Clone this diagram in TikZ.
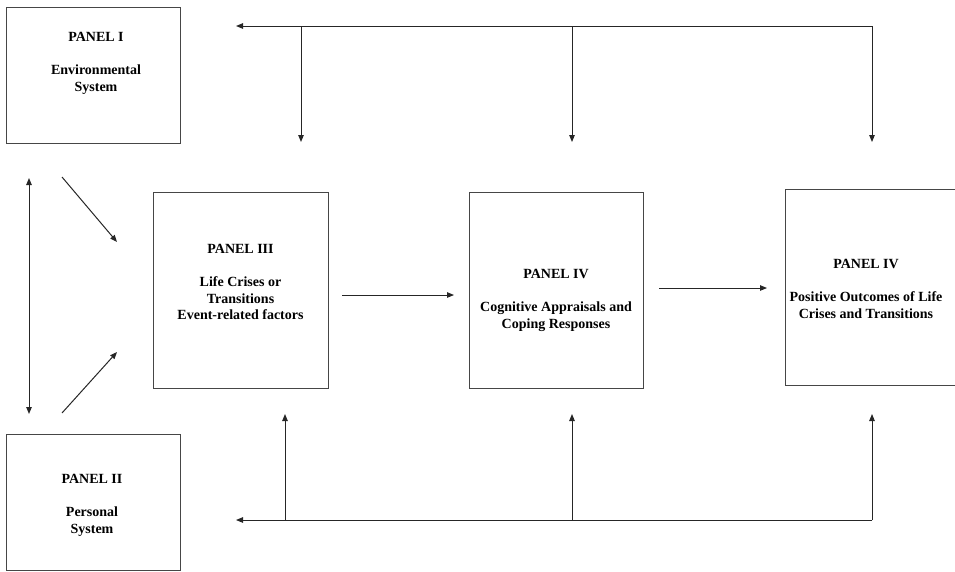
\documentclass[tikz,border=0pt]{standalone}
\usepackage{fontspec}
\setmainfont{Liberation Serif}
\usetikzlibrary{arrows.meta,positioning}
\definecolor{cEdge}{RGB}{70,70,70}
\tikzset{
	panelbox/.style={draw=cEdge, line width=0.95pt, fill=white, inner sep=0pt},
	paneltxt/.style={align=center, inner sep=0pt, anchor=north,
		font=\fontsize{14}{16.5}\selectfont\bfseries},
	parr/.style={-{Triangle[length=7pt,width=5.5pt]}, line width=1pt, draw=black!85},
}

\begin{document}
\begin{tikzpicture}[x=1pt,y=-1pt]
	\useasboundingbox (0,0) rectangle (955,571);
	% panels
	\node[panelbox, minimum width=174, minimum height=136] (envsys) at (93,75) {};
	\node[panelbox, minimum width=174, minimum height=136] (perssys) at (93,502) {};
	\node[panelbox, minimum width=175, minimum height=196] (crises) at (240.5,290) {};
	\node[panelbox, minimum width=174, minimum height=196] (coping) at (556,290) {};
	\node[panelbox, minimum width=176, minimum height=196] (outcome) at (873,287) {};
	% panel texts
	\node[paneltxt, yshift=-26pt, xshift=3pt] (envtxt) at (envsys.north)
		{PANEL I\\[16.5pt]Environmental\\System};
	\node[paneltxt, yshift=-41pt, xshift=-1pt] (perstxt) at (perssys.north)
		{PANEL II\\[16.5pt]Personal\\System};
	\node[paneltxt, yshift=-53pt] (crisestxt) at (crises.north)
		{PANEL III\\[16.5pt]Life Crises or\\Transitions\\Event-related factors};
	\node[paneltxt, yshift=-78pt] (copingtxt) at (coping.north)
		{PANEL IV\\[16.5pt]Cognitive Appraisals and\\Coping Responses};
	\node[paneltxt, yshift=-71pt, xshift=-7pt] (outcometxt) at (outcome.north)
		{PANEL IV\\[16.5pt]Positive Outcomes of Life\\Crises and Transitions};
	% free ends of the connectors
	\coordinate (vtop) at (29,178);
	\coordinate (vbot) at (29,414);
	\coordinate (dgA) at (62,177);
	\coordinate (dgAend) at (117,242);
	\coordinate (dgB) at (62,413);
	\coordinate (dgBend) at (117,352);
	\coordinate (midA) at (342,295);
	\coordinate (midAend) at (454,295);
	\coordinate (midB) at (659,288);
	\coordinate (midBend) at (767,288);
	\coordinate (topR) at (872,26);
	\coordinate (topL) at (236,26);
	\coordinate (botR) at (872,520);
	\coordinate (botL) at (236,520);
	% left side
	\draw[parr, {Triangle[length=7pt,width=5.5pt]}-{Triangle[length=7pt,width=5.5pt]}] (vtop) -- (vbot);
	\draw[parr] (dgA) -- (dgAend);
	\draw[parr] (dgB) -- (dgBend);
	% between panels
	\draw[parr] (midA) -- (midAend);
	\draw[parr] (midB) -- (midBend);
	% feedback lines
	\draw[parr] (topR) -- (topL);
	\draw[parr] (botR) -- (botL);
	\foreach \x/\n in {301/a,572/b,872/c}{
		\coordinate (dn\n) at (\x,26);
		\coordinate (dn\n end) at (\x,142);
		\draw[parr] (dn\n) -- (dn\n end);
	}
	\foreach \x/\n in {285/a,572/b,872/c}{
		\coordinate (up\n) at (\x,520);
		\coordinate (up\n end) at (\x,414);
		\draw[parr] (up\n) -- (up\n end);
	}
\end{tikzpicture}
\end{document}
